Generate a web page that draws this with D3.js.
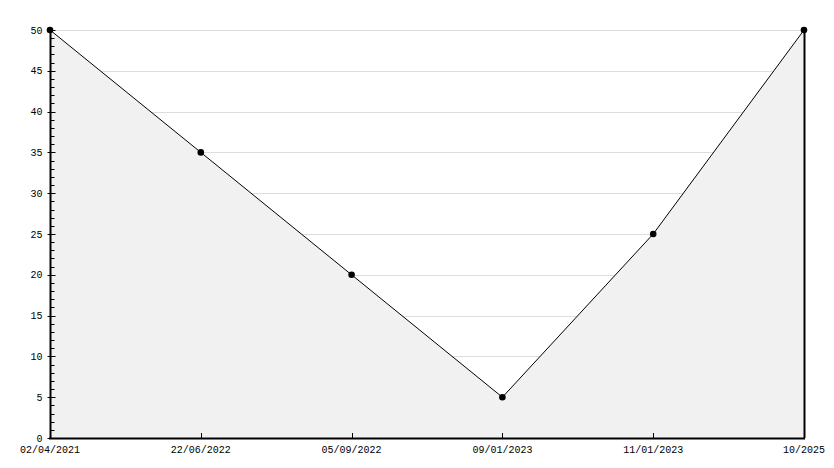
<!DOCTYPE html>
<html><head><meta charset="utf-8">
<script src="https://cdn.jsdelivr.net/npm/d3@7"></script>
<style>body{margin:0;background:#fff}svg{display:block}text{font-family:"Liberation Mono","DejaVu Sans Mono",monospace;font-size:10px;fill:#000}</style>
</head><body>
<svg id="c" width="834" height="468"></svg>
<script>
const categories = ["02/04/2021","22/06/2022","05/09/2022","09/01/2023","11/01/2023","10/2025"];
const values = [50,35,20,5,25,50];
const yMajorTicks = [0,5,10,15,20,25,30,35,40,45,50];
const yMinorTicks = d3.range(0,51,1).filter(v=>v%5!==0);

const svg = d3.select("#c");
const x = d3.scalePoint().domain(categories).range([50,804]);
const y = d3.scaleLinear().domain([0,50]).range([438,30]);
const data = categories.map((c,i)=>({c, v: values[i]}));

// grid
svg.append("g").selectAll("line").data(yMajorTicks).join("line")
  .attr("x1",50).attr("x2",804).attr("y1",d=>Math.round(y(d))+0.5).attr("y2",d=>Math.round(y(d))+0.5)
  .attr("stroke","#dddddd").attr("stroke-width",1).attr("shape-rendering","crispEdges");

// area
svg.append("path").datum(data)
  .attr("d", d3.area().x(d=>x(d.c)).y0(y(0)).y1(d=>y(d.v)))
  .attr("fill","#f1f1f1");

// right border
svg.append("line").attr("x1",x(categories[categories.length-1])+0.5).attr("x2",x(categories[categories.length-1])+0.5)
  .attr("y1",y(50)).attr("y2",y(0)).attr("stroke","#000").attr("stroke-width",2);

// line
svg.append("path").datum(data)
  .attr("d", d3.line().x(d=>x(d.c)).y(d=>y(d.v)))
  .attr("fill","none").attr("stroke","#000").attr("stroke-width",1);

// markers
svg.append("g").selectAll("path").data(data).join("path")
  .attr("transform",d=>`translate(${x(d.c)},${y(d.v)})`)
  .attr("d", d3.symbol().type(d3.symbolCircle).size(34))
  .attr("fill","#000");

// y axis
const ya = svg.append("g").attr("transform","translate(50.5,0)");
ya.append("line").attr("y1",y(50)).attr("y2",y(0)+1).attr("stroke","#000").attr("stroke-width",2);
ya.selectAll("line.maj").data(yMajorTicks).join("line").attr("class","maj")
  .attr("x1",-3).attr("x2",5).attr("y1",d=>Math.round(y(d))+0.5).attr("y2",d=>Math.round(y(d))+0.5).attr("stroke","#000");
ya.selectAll("line.min").data(yMinorTicks).join("line").attr("class","min")
  .attr("x1",0).attr("x2",4).attr("y1",d=>Math.round(y(d))+0.5).attr("y2",d=>Math.round(y(d))+0.5).attr("stroke","#000");
ya.selectAll("text").data(yMajorTicks).join("text")
  .attr("x",-8).attr("y",d=>y(d)).attr("dy","0.35em").attr("text-anchor","end").text(d=>d);

// x axis
const xa = svg.append("g");
xa.append("line").attr("x1",49).attr("x2",805).attr("y1",438.5).attr("y2",438.5).attr("stroke","#000").attr("stroke-width",2);
xa.selectAll("line.t").data(categories).join("line").attr("class","t")
  .attr("x1",d=>Math.round(x(d))+0.5).attr("x2",d=>Math.round(x(d))+0.5).attr("y1",433).attr("y2",438).attr("stroke","#000");
xa.selectAll("text").data(categories).join("text")
  .attr("x",d=>x(d)).attr("y",453).attr("text-anchor","middle").text(d=>d);
</script>
</body></html>
